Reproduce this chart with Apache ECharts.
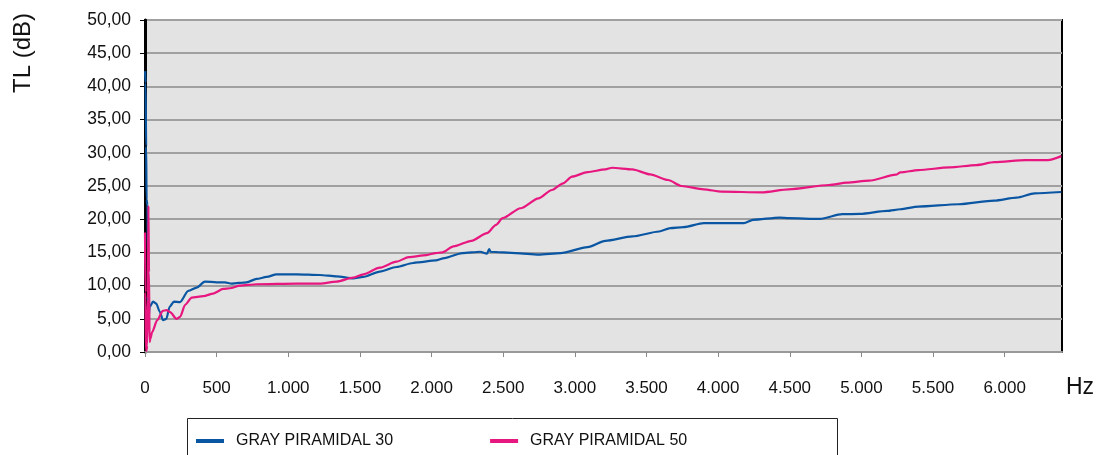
<!DOCTYPE html>
<html><head><meta charset="utf-8">
<script src="https://cdn.jsdelivr.net/npm/echarts@6/dist/echarts.min.js"></script>
<style>html,body{margin:0;padding:0;background:#fff}#c{width:1101px;height:455px}</style>
</head><body><div id="c"></div>
<script>
const seriesNames = ['GRAY PIRAMIDAL 30', 'GRAY PIRAMIDAL 50'];
const xTicks = [0, 500, 1000, 1500, 2000, 2500, 3000, 3500, 4000, 4500, 5000, 5500, 6000];

const freq30 = [1, 4, 8, 11, 17, 21, 24, 33, 56, 79, 102, 126, 149, 172, 202, 244, 302, 360, 418, 500, 558, 605, 709, 779, 849, 918, 1058, 1220, 1337, 1453, 1523, 1639, 1755, 1871, 1903, 2028, 2090, 2215, 2340, 2387, 2402, 2412, 2589, 2746, 2901, 3089, 3213, 3401, 3588, 3666, 3759, 3900, 4180, 4243, 4430, 4493, 4711, 4867, 4991, 5179, 5272, 5397, 5678, 5927, 6083, 6208, 6395];
const tl30 = [42.3, 40.5, 31, 23, 22.1, 14, 5.0, 6.8, 7.6, 7.3, 6.1, 4.8, 5.0, 6.8, 7.6, 7.5, 9.2, 9.7, 10.6, 10.5, 10.5, 10.3, 10.5, 11.0, 11.3, 11.7, 11.7, 11.6, 11.4, 11.1, 11.3, 12.1, 12.8, 13.4, 13.5, 13.8, 14.15, 14.9, 15.1, 14.8, 15.5, 15.1, 14.9, 14.65, 14.9, 15.8, 16.75, 17.4, 18.15, 18.65, 18.8, 19.4, 19.4, 19.9, 20.25, 20.15, 20.05, 20.75, 20.8, 21.25, 21.5, 21.9, 22.25, 22.8, 23.25, 23.9, 24.1];

const freq50 = [0, 3, 6, 10, 15, 20, 24, 28, 32, 38, 50, 85, 125, 150, 175, 220, 245, 280, 326, 407, 476, 546, 593, 662, 779, 1058, 1220, 1337, 1453, 1523, 1639, 1755, 1840, 1965, 2028, 2075, 2153, 2278, 2387, 2450, 2496, 2621, 2746, 2840, 2918, 2980, 3089, 3213, 3260, 3401, 3526, 3651, 3744, 3900, 4025, 4305, 4493, 4774, 4898, 5054, 5241, 5272, 5397, 5615, 5802, 5927, 6146, 6302, 6395];
const tl50 = [18, 9, 0.3, 0.2, 1.0, 8, 22, 12, 1.5, 2.0, 3.0, 4.8, 6.2, 6.3, 6.0, 5.0, 5.3, 7.1, 8.2, 8.4, 8.8, 9.5, 9.6, 10.0, 10.2, 10.3, 10.3, 10.6, 11.2, 11.7, 12.7, 13.6, 14.3, 14.6, 14.9, 15.0, 15.9, 16.75, 17.9, 19.15, 20.15, 21.65, 23.15, 24.4, 25.4, 26.4, 27.1, 27.5, 27.75, 27.5, 26.75, 25.9, 25.0, 24.5, 24.15, 24.05, 24.5, 25.15, 25.5, 25.8, 26.7, 27.05, 27.4, 27.8, 28.15, 28.6, 28.9, 28.9, 29.5];

const zip = (a, b) => a.map((v, i) => [v, b[i]]);
const fmtThousands = v => String(v).replace(/\B(?=(\d{3})+(?!\d))/g, '.');

const chart = echarts.init(document.getElementById('c'), null, {renderer: 'canvas'});
const FONT = 'Liberation Sans';
chart.setOption({
  animation: false,
  textStyle: {fontFamily: FONT},
  grid: {left: 145, right: 39, top: 20, bottom: 103, show: true, backgroundColor: '#e3e3e3', borderColor: '#000', borderWidth: 2},
  xAxis: {
    type: 'value', min: 0, max: 6400, interval: 500,
    axisLine: {show: true, onZero: false, lineStyle: {color: '#999', width: 2}},
    axisTick: {show: true, length: 5, lineStyle: {color: '#888', width: 1}},
    splitLine: {show: false},
    axisLabel: {margin: 28, fontSize: 17, color: '#111', fontFamily: FONT, showMaxLabel: false,
      formatter: v => xTicks.indexOf(v) >= 0 ? fmtThousands(v) : ''}
  },
  yAxis: {
    type: 'value', min: 0, max: 50, interval: 5,
    axisLine: {show: true, lineStyle: {color: '#000', width: 3}},
    axisTick: {show: true, length: 5, lineStyle: {color: '#000', width: 1}},
    splitLine: {show: true, lineStyle: {color: '#a0a0a0', width: 2}},
    axisLabel: {margin: 14, fontSize: 17.5, color: '#111', fontFamily: FONT,
      formatter: v => v.toFixed(2).replace('.', ',')}
  },
  legend: {
    left: 191, top: 428, itemWidth: 28, itemHeight: 4, itemGap: 97,
    icon: 'rect',
    textStyle: {fontSize: 16, color: '#111', fontFamily: FONT, padding: [0, 0, 0, 7]},
    data: seriesNames
  },
  graphic: [
    {type: 'rect', left: 185, top: 416, shape: {width: 650, height: 50}, style: {fill: 'none', stroke: '#222', lineWidth: 1}, z: -1},
    {type: 'text', left: 1066, top: 376, style: {text: 'Hz', font: '23px "Liberation Sans"', fill: '#111'}},
    {type: 'text', x: 11, y: 93, rotation: Math.PI / 2, style: {text: 'TL (dB)', font: '24px "Liberation Sans"', fill: '#111'}}
  ],
  series: [
    {name: seriesNames[0], type: 'line', data: zip(freq30, tl30), showSymbol: false, smooth: 0.25, smoothMonotone: 'x',
      lineStyle: {color: '#0a56a3', width: 2.2}, itemStyle: {color: '#0a56a3'}},
    {name: seriesNames[1], type: 'line', data: zip(freq50, tl50), showSymbol: false, smooth: 0.25, smoothMonotone: 'x',
      lineStyle: {color: '#e8167f', width: 2.2}, itemStyle: {color: '#e8167f'}}
  ]
});
</script></body></html>
